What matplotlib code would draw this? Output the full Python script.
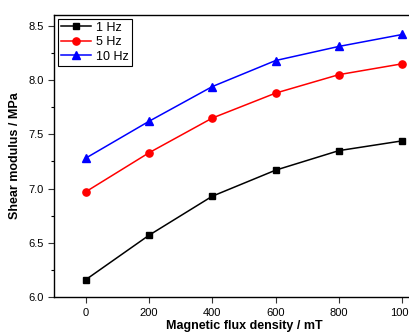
import matplotlib.pyplot as plt
from matplotlib.ticker import MultipleLocator

plt.rcParams['font.family'] = ['Liberation Sans', 'DejaVu Sans']

# magnetic flux density (mT)
flux = [0, 200, 400, 600, 800, 1000]

# shear modulus (MPa) per frequency
g_1hz = [6.16, 6.57, 6.93, 7.17, 7.35, 7.44]
g_5hz = [6.97, 7.33, 7.65, 7.88, 8.05, 8.15]
g_10hz = [7.28, 7.62, 7.94, 8.18, 8.31, 8.42]

labels = ['1 Hz', '5 Hz', '10 Hz']

fig = plt.figure(figsize=(4.09, 3.32), dpi=100)
# axes runs past the right edge, like the cropped original
ax = fig.add_axes([0.132, 0.105, 0.929, 0.85])

ax.plot(flux, g_1hz, color='black', marker='s', ms=4.6, lw=1.1, label=labels[0])
ax.plot(flux, g_5hz, color='red', marker='o', ms=5.2, lw=1.1, label=labels[1])
ax.plot(flux, g_10hz, color='blue', marker='^', ms=5.6, lw=1.1, label=labels[2])

ax.set_xlim(-100, 1100)
ax.set_ylim(6.0, 8.6)
ax.set_xticks(flux)
ax.yaxis.set_major_locator(MultipleLocator(0.5))
ax.yaxis.set_minor_locator(MultipleLocator(0.25))
ax.tick_params(axis='both', which='major', direction='out', length=4, width=0.8, labelsize=8, colors='#333333', labelcolor='black')
ax.tick_params(axis='y', which='minor', direction='out', length=2.5, width=0.8)
ax.yaxis.set_major_formatter(plt.FuncFormatter(lambda v, p: f'{v:.1f}'))

for s in ax.spines.values():
    s.set_linewidth(1.0)

ax.set_xlabel('Magnetic flux density / mT', fontsize=9, fontweight='bold', labelpad=2)
ax.set_ylabel('Shear modulus / MPa', fontsize=9, fontweight='bold', labelpad=5)

leg = ax.legend(loc='upper left', fontsize=9, handlelength=2.4, handletextpad=0.4,
                borderpad=0.25, labelspacing=0.2, borderaxespad=0.3, fancybox=False,
                framealpha=1, edgecolor='black')
leg.get_frame().set_linewidth(0.8)

fig.savefig('out.png', dpi=100)
